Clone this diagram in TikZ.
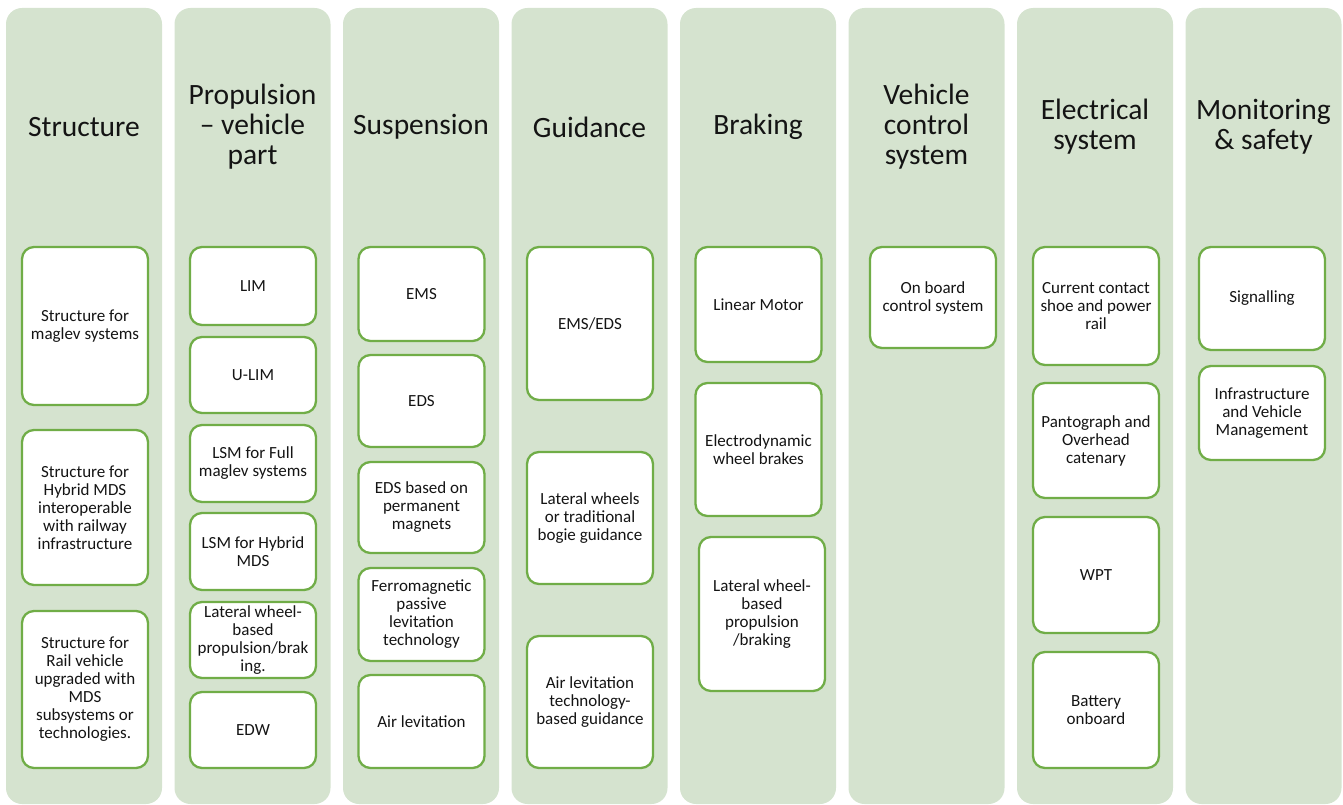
\documentclass[tikz,border=0pt]{standalone}
\usepackage{fontspec}
\setmainfont{Carlito}
\definecolor{colfill}{RGB}{213,227,207}
\definecolor{boxline}{RGB}{112,173,71}
\definecolor{txt}{RGB}{20,20,20}
\tikzset{
  coltitle/.style={align=center, text=txt, font=\fontsize{29.5}{30}\selectfont},
  subbox/.style={draw=boxline, line width=2.3pt, fill=white, rounded corners=12pt,
    minimum width=126pt, inner sep=0pt, align=center, text=txt,
    font=\fontsize{17}{18}\selectfont},
}
\begin{document}
\begin{tikzpicture}[x=1pt, y=-1pt]
    \useasboundingbox (0,0) rectangle (1343,805);

    % Fondos de las columnas
    \foreach \i in {0,...,7}
        \fill[colfill, rounded corners=16pt] ({6+168.5*\i},8) rectangle ++(156,796);

    % Titulos de las columnas
    \node[coltitle] (t1) at (84,127) {Structure};
    \node[coltitle] (t2) at (252.5,127) {Propulsion\\– vehicle\\part};
    \node[coltitle] (t3) at (421,127) {Suspension};
    \node[coltitle] (t4) at (589.5,127) {Guidance};
    \node[coltitle] (t5) at (758,127) {Braking};
    \node[coltitle] (t6) at (926.5,127) {Vehicle\\control\\system};
    \node[coltitle] (t7) at (1095,127) {Electrical\\system};
    \node[coltitle] (t8) at (1263.5,127) {Monitoring\\\& safety};

    % Structure
    \node[subbox, minimum height=158pt] (str1) at (85,326) {Structure for\\maglev systems};
    \node[subbox, minimum height=155pt] (str2) at (85,507.5) {Structure for\\Hybrid MDS\\interoperable\\with railway\\infrastructure};
    \node[subbox, minimum height=157pt] (str3) at (85,689.5) {Structure for\\Rail vehicle\\upgraded with\\MDS\\subsystems or\\technologies.};

    % Propulsion
    \node[subbox, minimum height=78pt] (pro1) at (253,286) {LIM};
    \node[subbox, minimum height=76pt] (pro2) at (253,375) {U-LIM};
    \node[subbox, minimum height=77pt] (pro3) at (253,463.5) {LSM for Full\\maglev systems};
    \node[subbox, minimum height=77pt] (pro4) at (253,551.5) {LSM for Hybrid\\MDS};
    \node[subbox, minimum height=76pt] (pro5) at (253,640) {Lateral wheel-\\based\\propulsion/brak\\ing.};
    \node[subbox, minimum height=76pt] (pro6) at (253,730) {EDW};

    % Suspension
    \node[subbox, minimum height=94pt] (sus1) at (421.5,294) {EMS};
    \node[subbox, minimum height=92pt] (sus2) at (421.5,401) {EDS};
    \node[subbox, minimum height=91pt] (sus3) at (421.5,507.5) {EDS based on\\permanent\\magnets};
    \node[subbox, minimum height=93pt] (sus4) at (421.5,614.5) {Ferromagnetic\\passive\\levitation\\technology};
    \node[subbox, minimum height=93pt] (sus5) at (421.5,721.5) {Air levitation};

    % Guidance
    \node[subbox, minimum height=153pt] (gui1) at (590,323.5) {EMS/EDS};
    \node[subbox, minimum height=132pt] (gui2) at (590,518) {Lateral wheels\\or traditional\\bogie guidance};
    \node[subbox, minimum height=132pt] (gui3) at (590,702) {Air levitation\\technology-\\based guidance};

    % Braking
    \node[subbox, minimum height=115pt] (bra1) at (758.5,304.5) {Linear Motor};
    \node[subbox, minimum height=133pt] (bra2) at (758.5,449.5) {Electrodynamic\\wheel brakes};
    \node[subbox, minimum height=154pt] (bra3) at (762,614) {Lateral wheel-\\based\\propulsion\\/braking};

    % Vehicle control system
    \node[subbox, minimum height=101pt] (veh1) at (933,297.5) {On board\\control system};

    % Electrical system
    \node[subbox, minimum height=118pt] (ele1) at (1096,306) {Current contact\\shoe and power\\rail};
    \node[subbox, minimum height=115pt] (ele2) at (1096,440.5) {Pantograph and\\Overhead\\catenary};
    \node[subbox, minimum height=116pt] (ele3) at (1096,575) {WPT};
    \node[subbox, minimum height=116pt] (ele4) at (1096,710) {Battery\\onboard};

    % Monitoring & safety
    \node[subbox, minimum height=103pt] (mon1) at (1262,298.5) {Signalling};
    \node[subbox, minimum height=94pt] (mon2) at (1262,413) {Infrastructure\\and Vehicle\\Management};
\end{tikzpicture}
\end{document}
